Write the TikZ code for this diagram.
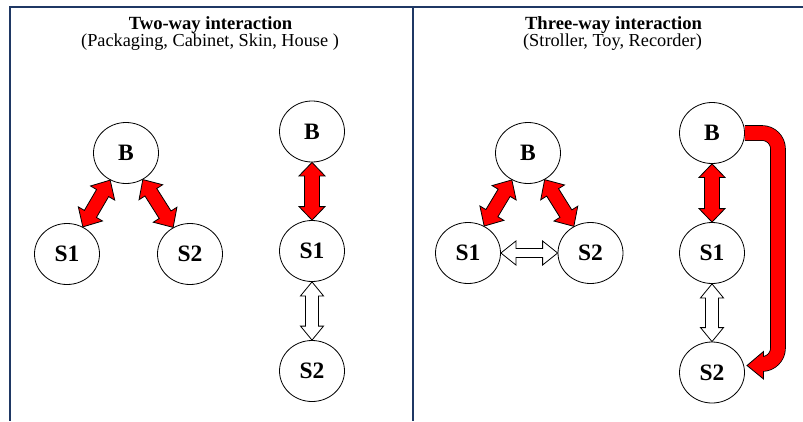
\documentclass[tikz,border=0pt]{standalone}
\usepackage{fontspec}
\setmainfont{Liberation Serif}
\usetikzlibrary{shapes.geometric,calc}
\definecolor{framecol}{HTML}{1F3864}
\definecolor{arrred}{HTML}{FF0000}
\tikzset{
  frameline/.style={draw=framecol, line width=2pt},
  circ/.style={ellipse, draw=black, line width=0.8pt, fill=white, minimum width=65pt, minimum height=61pt, inner sep=0pt, font=\fontsize{23.5}{26}\selectfont\bfseries},
  titletext/.style={anchor=base, inner sep=0pt, font=\fontsize{18.6}{22}\selectfont\bfseries},
  subtext/.style={anchor=base, inner sep=0pt, font=\fontsize{18.3}{22}\selectfont},
  fatline/.style={draw=black, line width=0.8pt, line join=miter},
}
% #1 from, #2 to, #3 fill, #4 shaft half width, #5 head half width, #6 head length
\newcommand\fatarrow[6]{%
  \path (#1) -- (#2) coordinate[pos=0] (fatA) coordinate[pos=1] (fatB);
  \path let \p1=(fatA), \p2=(fatB), \n1={atan2(\y2-\y1,\x2-\x1)}, \n2={veclen(\x2-\x1,\y2-\y1)} in
    \pgfextra{\xdef\fatang{\n1}\xdef\fatlen{\n2}\xdef\fatx{\x1}\xdef\faty{\y1}};
  \begin{scope}[shift={(\fatx,\faty)}, rotate=\fatang]
    \draw[fatline, fill=#3] (0,0) -- (#6,#5) -- (#6,#4) -- (\fatlen-#6,#4) -- (\fatlen-#6,#5) -- (\fatlen,0)
      -- (\fatlen-#6,-#5) -- (\fatlen-#6,-#4) -- (#6,-#4) -- (#6,-#5) -- cycle;
  \end{scope}
}
\begin{document}
\begin{tikzpicture}[x=1pt,y=-1pt]
\useasboundingbox (0,0) rectangle (803,421);
% frame
\draw[frameline] (803,6.8) -- (9.5,6.8) -- (9.5,421);
\draw[frameline] (413,6.8) -- (413,421);
% titles
\node[titletext] (t1) at (210.5,29) {Two-way interaction};
\node[subtext] (s1) at (210,46) {(Packaging, Cabinet, Skin, House )};
\node[titletext] (t2) at (613.5,29) {Three-way interaction};
\node[subtext] (s2) at (612.5,46) {(Stroller, Toy, Recorder)};
% left triangle
\node[circ] (LB) at (126,153) {B};
\node[circ] (LS1) at (67,254) {S1};
\node[circ] (LS2) at (190,254) {S2};
% left column
\node[circ] (CB) at (312,131.5) {B};
\node[circ] (CS1) at (312,251) {S1};
\node[circ] (CS2) at (312,371) {S2};
% right triangle
\node[circ] (RB) at (528,153) {B};
\node[circ] (RS1) at (468,253) {S1};
\node[circ] (RS2) at (590.5,253) {S2};
% right column
\node[circ] (DB) at (712,133) {B};
\node[circ] (DS1) at (712,253) {S1};
\node[circ] (DS2) at (712,372.5) {S2};
% arrows left panel
\fatarrow{LB}{LS1}{arrred}{7}{14}{15}
\fatarrow{LB}{LS2}{arrred}{7}{14}{15}
\fatarrow{CB}{CS1}{arrred}{7.5}{13}{13.5}
\fatarrow{CS1}{CS2}{white}{6.5}{11.5}{14}
% arrows right panel
\fatarrow{RB}{RS1}{arrred}{7}{14}{15}
\fatarrow{RB}{RS2}{arrred}{7}{14}{15}
\fatarrow{RS1}{RS2}{white}{4.5}{12}{15}
\fatarrow{DB}{DS1}{arrred}{7.5}{13}{13.5}
\fatarrow{DS1}{DS2}{white}{6.5}{11.5}{14}
% big curved arrow B -> S2
\coordinate (bc1) at (778,133);
\coordinate (bc2) at (778,364);
\coordinate (bc3) at (757,364);
\draw[black, line width=15.6pt, rounded corners=16pt] (DB.east) -- (bc1) -- (bc2) -- (bc3);
\draw[fatline, fill=arrred] (763.5,351.5) -- (747,365.5) -- (763.5,379) -- cycle;
\draw[arrred, line width=14pt, rounded corners=16pt] (DB.east) -- (bc1) -- (bc2) -- (bc3);
\end{tikzpicture}
\end{document}
